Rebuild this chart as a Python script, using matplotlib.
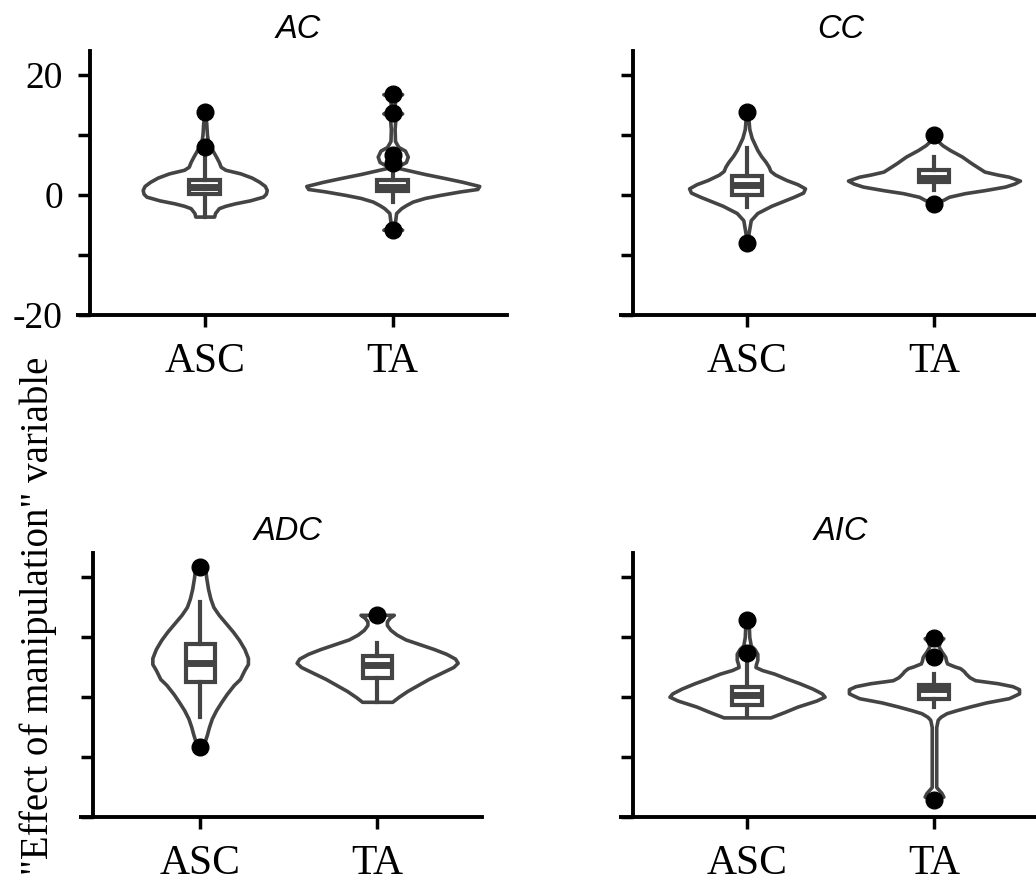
"""Violin + box plots of the "effect of manipulation" variable, four conditions.

Violin outlines are read off the published figure as (level, half width) pairs,
box statistics and outliers are read the same way.
"""

import matplotlib

matplotlib.use("Agg")
import matplotlib.pyplot as plt

PANELS = ["AC", "CC", "ADC", "AIC"]
GROUPS = ["ASC", "TA"]

# ── Violin outlines: value level -> half width (category units) ──────────
AC_ASC_Y = [13.9, 12.0, 10.0, 8.5, 7.5, 6.4, 5.5, 4.7, 4.2, 3.6, 2.9, 2.2, 1.5,
            0.83, 0.2, -0.28, -0.9, -1.4, -1.8, -2.2, -3.0, -3.6]
AC_ASC_W = [0.0, 0.008, 0.012, 0.02, 0.04, 0.06, 0.075, 0.085, 0.11, 0.19, 0.25,
            0.29, 0.32, 0.33, 0.325, 0.31, 0.24, 0.16, 0.11, 0.075, 0.055, 0.05]

AC_TA_Y = [16.8, 16.2, 15.0, 14.2, 13.6, 13.0, 11.0, 9.0, 8.0, 7.4, 6.4, 5.5, 4.9,
           4.5, 4.0, 3.5, 2.8, 2.2, 1.5, 1.0, 0.6, 0.0, -0.5, -1.1, -1.7, -2.2,
           -3.0, -4.5, -5.3, -5.8]
AC_TA_W = [0.05, 0.015, 0.01, 0.015, 0.05, 0.015, 0.01, 0.012, 0.03, 0.065, 0.08,
           0.07, 0.035, 0.03, 0.1, 0.17, 0.28, 0.37, 0.46, 0.45, 0.36, 0.25, 0.17,
           0.106, 0.07, 0.045, 0.018, 0.012, 0.02, 0.05]

CC_ASC_Y = [13.9, 12.5, 11.0, 9.5, 8.5, 7.5, 6.5, 5.5, 4.7, 4.0, 3.4, 2.5, 1.8,
            1.1, 0.4, -0.3, -0.8, -1.8, -3.0, -4.2, -6.0, -8.05]
CC_ASC_W = [0.0, 0.008, 0.012, 0.025, 0.04, 0.055, 0.075, 0.1, 0.116, 0.125, 0.15,
            0.21, 0.27, 0.31, 0.3, 0.25, 0.21, 0.13, 0.055, 0.02, 0.01, 0.0]

CC_TA_Y = [10.0, 9.0, 8.3, 7.5, 6.4, 5.3, 4.5, 3.9, 3.4, 3.05, 2.4, 1.9, 1.4, 0.8,
           0.3, -0.3, -0.8, -1.2, -1.5]
CC_TA_W = [0.0, 0.02, 0.045, 0.085, 0.15, 0.2, 0.24, 0.27, 0.34, 0.4, 0.46, 0.43,
           0.38, 0.27, 0.165, 0.08, 0.05, 0.02, 0.0]

ADC_ASC_Y = [21.6, 21.0, 19.8, 18.0, 16.4, 15.0, 13.7, 12.3, 10.9, 9.5, 8.0, 6.5,
             5.5, 4.5, 3.0, 2.0, 0.5, -0.8, -2.2, -3.6, -5.0, -6.3, -7.5, -8.3]
ADC_ASC_W = [0.0, 0.03, 0.035, 0.045, 0.058, 0.075, 0.105, 0.145, 0.185, 0.22, 0.25,
             0.27, 0.27, 0.25, 0.225, 0.19, 0.15, 0.12, 0.09, 0.066, 0.05, 0.038,
             0.025, 0.0]

ADC_TA_Y = [13.7, 13.2, 12.6, 12.0, 11.2, 10.4, 9.6, 8.8, 8.0, 7.2, 6.4, 5.7, 5.0,
            4.0, 3.0, 2.0, 1.0, 0.0, -0.8]
ADC_TA_W = [0.094, 0.07, 0.055, 0.055, 0.075, 0.11, 0.16, 0.24, 0.32, 0.39, 0.44,
            0.455, 0.43, 0.36, 0.29, 0.23, 0.17, 0.12, 0.085]

AIC_ASC_Y = [12.8, 11.5, 10.0, 8.6, 8.0, 7.2, 6.2, 5.5, 5.0, 4.5, 3.9, 3.1, 2.3,
             1.4, 0.6, 0.05, -0.6, -1.6, -2.5, -3.4]
AIC_ASC_W = [0.0, 0.01, 0.012, 0.02, 0.04, 0.055, 0.055, 0.048, 0.045, 0.08, 0.145,
             0.21, 0.28, 0.35, 0.4, 0.415, 0.37, 0.27, 0.2, 0.125]

AIC_TA_Y = [10.2, 9.8, 9.2, 8.4, 7.6, 6.7, 6.0, 5.6, 5.1, 4.8, 4.3, 3.9, 3.3, 2.8,
            2.3, 1.8, 1.3, 0.6, -0.2, -0.9, -1.6, -2.2, -2.7, -3.3, -3.8, -5.0,
            -15.0, -16.0, -16.6, -17.2]
AIC_TA_W = [0.0, 0.05, 0.03, 0.025, 0.04, 0.06, 0.065, 0.07, 0.11, 0.14, 0.16, 0.17,
            0.19, 0.22, 0.34, 0.42, 0.455, 0.455, 0.4, 0.28, 0.19, 0.12, 0.067,
            0.035, 0.02, 0.012, 0.012, 0.04, 0.05, 0.0]

VIOLINS = {
    "AC": [(AC_ASC_Y, AC_ASC_W), (AC_TA_Y, AC_TA_W)],
    "CC": [(CC_ASC_Y, CC_ASC_W), (CC_TA_Y, CC_TA_W)],
    "ADC": [(ADC_ASC_Y, ADC_ASC_W), (ADC_TA_Y, ADC_TA_W)],
    "AIC": [(AIC_ASC_Y, AIC_ASC_W), (AIC_TA_Y, AIC_TA_W)],
}

# ── Box statistics, per panel [ASC, TA] ───────────────────────────────────
BOX_Q1 = [[0.15, 0.6], [-0.05, 2.2], [2.55, 3.1], [-1.35, -0.25]]
BOX_MED = [[1.3, 1.35], [1.6, 2.8], [5.7, 5.4], [0.33, 1.3]]
BOX_Q3 = [[2.55, 2.55], [3.1, 4.2], [8.85, 6.85], [1.65, 1.95]]
WHISK_LO = [[-3.6, -1.1], [-1.95, 0.83], [-3.4, -0.8], [-3.4, -1.6]]
WHISK_HI = [[6.7, 4.2], [7.8, 6.4], [15.9, 9.05], [6.0, 3.9]]
OUTLIERS = [
    [[13.9, 8.05], [16.8, 13.6, 6.7, 5.3, -5.8]],
    [[13.9, -8.05], [10.0, -1.5]],
    [[21.6, -8.3], [13.7]],
    [[12.8, 7.4], [9.8, 6.7, -17.2]],
]

Y_TICKS = [-20, -10, 0, 10, 20]
Y_TICK_LABELS = ["-20", "", "0", "", "20"]
Y_LABEL = '"Effect of manipulation" variable'

GRAY = "#444444"
SERIF = "Liberation Serif"
SANS = "Liberation Sans"

# axes rectangles in figure fraction, and x ranges per panel
_AX_RECTS = [
    [0.0869, 0.6437, 0.4029, 0.2986],
    [0.6110, 0.6437, 0.4006, 0.2986],
    [0.0898, 0.0758, 0.3759, 0.2986],
    [0.6110, 0.0758, 0.4006, 0.2986],
]
_XLIMS = [(-0.61, 1.61), (-0.61, 1.61), (-0.605, 1.595), (-0.61, 1.61)]


def _draw_panel(ax, idx, name):
    for pos, (levels, half) in enumerate(VIOLINS[name]):
        ax.fill_betweenx(levels, [pos - w for w in half], [pos + w for w in half],
                         facecolor="white", edgecolor=GRAY, linewidth=2.6, zorder=1)

    stats = [
        dict(med=BOX_MED[idx][g], q1=BOX_Q1[idx][g], q3=BOX_Q3[idx][g],
             whislo=WHISK_LO[idx][g], whishi=WHISK_HI[idx][g], fliers=OUTLIERS[idx][g])
        for g in range(len(GROUPS))
    ]
    ax.bxp(stats, positions=[0, 1], widths=0.165, patch_artist=True, showcaps=False,
           manage_ticks=False, zorder=3,
           boxprops=dict(facecolor="white", edgecolor=GRAY, linewidth=3.0),
           medianprops=dict(color=GRAY, linewidth=5.0, solid_capstyle="butt"),
           whiskerprops=dict(color=GRAY, linewidth=3.0),
           flierprops=dict(marker="o", markerfacecolor="black",
                           markeredgecolor="black", markersize=12))

    ax.set_xlim(*_XLIMS[idx])
    ax.set_ylim(-20, 24)
    for side in ("top", "right"):
        ax.spines[side].set_visible(False)
    for side in ("left", "bottom"):
        ax.spines[side].set_linewidth(2.8)
    # x axis line runs on under the y ticks
    width_px = ax.get_position().width * ax.figure.bbox.width
    ax.plot([-14.0 / width_px, 0.0], [0, 0], transform=ax.transAxes, clip_on=False,
            color="black", linewidth=2.8, solid_capstyle="butt")

    ax.set_xticks([0, 1])
    ax.set_xticklabels(GROUPS, fontfamily=SERIF, fontsize=30)
    ax.set_yticks(Y_TICKS)
    ax.set_yticklabels(Y_TICK_LABELS if idx == 0 else [""] * len(Y_TICKS),
                       fontfamily=SERIF, fontsize=27)
    ax.tick_params(axis="both", length=8.6, width=2.5, color="black")
    ax.tick_params(axis="x", pad=11)
    ax.tick_params(axis="y", pad=11)
    ax.set_title(name, fontfamily=SANS, fontstyle="italic", fontsize=23.5, pad=9.5)


fig = plt.figure(figsize=(10.36, 8.84), dpi=100)
for i, panel in enumerate(PANELS):
    _draw_panel(fig.add_axes(_AX_RECTS[i]), i, panel)

fig.text(0.037, 0.303, Y_LABEL, rotation=90, ha="center", va="center",
         fontfamily=SERIF, fontsize=28)

fig.savefig("out.png", dpi=100)
plt.close(fig)
